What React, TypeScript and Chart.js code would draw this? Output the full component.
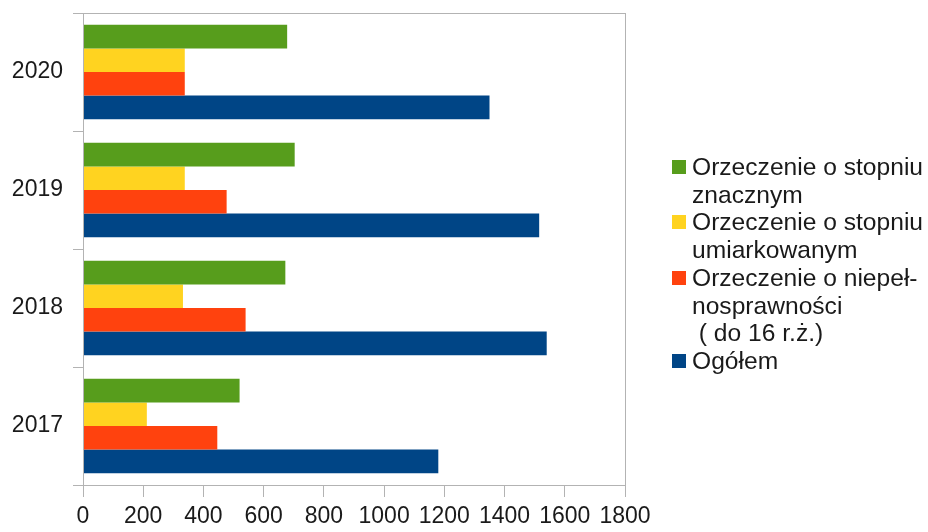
import React, { useEffect, useRef } from "react";
import { Chart, registerables } from "chart.js";

Chart.register(...registerables);

const categories = ["2020", "2019", "2018", "2017"];
const znacznym = [678, 703, 672, 520];
const umiarkowanym = [338, 338, 332, 212];
const do16 = [338, 477, 540, 446];
const ogolem = [1350, 1515, 1540, 1180];
const xTicks = [0, 200, 400, 600, 800, 1000, 1200, 1400, 1600, 1800];

const seriesNames = [
  "Orzeczenie o stopniu znacznym",
  "Orzeczenie o stopniu umiarkowanym",
  "Orzeczenie o niepełnosprawności ( do 16 r.ż.)",
  "Ogółem",
];
const legendLines = [
  ["Orzeczenie o stopniu", "znacznym"],
  ["Orzeczenie o stopniu", "umiarkowanym"],
  ["Orzeczenie o niepeł-", "nosprawności", " ( do 16 r.ż.)"],
  ["Ogółem"],
];
const colors = ["#579D1C", "#FFD320", "#FF420E", "#004586"];

const FONT = "'Liberation Sans', Arial, sans-serif";
const GRID = "#b3b3b3";
const TEXT = "#1a1a1a";

const framePlugin = {
  id: "frame",
  afterDraw(chart: any) {
    const { ctx, chartArea } = chart;
    ctx.save();
    ctx.strokeStyle = GRID;
    ctx.lineWidth = 1;
    ctx.strokeRect(
      Math.round(chartArea.left) + 0.5,
      Math.round(chartArea.top) + 0.5,
      Math.round(chartArea.right - chartArea.left),
      Math.round(chartArea.bottom - chartArea.top)
    );
    ctx.restore();
  },
};

export default function App() {
  const ref = useRef<HTMLCanvasElement>(null);

  useEffect(() => {
    const data = [znacznym, umiarkowanym, do16, ogolem];
    const chart = new Chart(ref.current!, {
      type: "bar",
      data: {
        labels: categories,
        datasets: data.map((d, i) => ({
          label: seriesNames[i],
          data: d,
          backgroundColor: colors[i],
          borderWidth: 0,
          categoryPercentage: 0.8,
          barPercentage: 1.0,
        })),
      },
      options: {
        indexAxis: "y",
        animation: false,
        responsive: false,
        maintainAspectRatio: false,
        layout: { padding: { left: 0, top: 13, right: 303, bottom: 0 } },
        plugins: {
          legend: { display: false },
          tooltip: { enabled: false },
        },
        scales: {
          x: {
            min: 0,
            max: 1800,
            afterBuildTicks: (scale: any) => {
              scale.ticks = xTicks.map((v) => ({ value: v }));
            },
            afterFit: (scale: any) => {
              scale.height = 47;
              scale.paddingLeft = 0;
              scale.paddingRight = 0;
              scale.paddingTop = 0;
              scale.paddingBottom = 0;
            },
            grid: {
              display: true,
              drawOnChartArea: false,
              drawTicks: true,
              tickLength: 12,
              color: GRID,
            },
            border: { display: true, color: GRID },
            ticks: {
              color: TEXT,
              font: { family: FONT, size: 23 },
              padding: 6,
              maxRotation: 0,
              autoSkip: false,
              callback: (v: any) => String(v),
            },
          },
          y: {
            afterFit: (scale: any) => {
              scale.width = 83;
              scale.paddingLeft = 0;
              scale.paddingRight = 0;
              scale.paddingTop = 0;
              scale.paddingBottom = 0;
            },
            grid: {
              display: true,
              offset: true,
              drawOnChartArea: false,
              drawTicks: true,
              tickLength: 10,
              color: GRID,
            },
            border: { display: true, color: GRID },
            ticks: {
              color: TEXT,
              font: { family: FONT, size: 23 },
              padding: 10,
            },
          },
        },
      },
      plugins: [framePlugin],
    });
    return () => chart.destroy();
  }, []);

  return (
    <div
      style={{
        position: "fixed",
        left: 0,
        top: 0,
        width: 928,
        height: 532,
        background: "#fff",
      }}
    >
      <canvas ref={ref} width={928} height={532} style={{ display: "block" }} />
      <div
        style={{
          position: "absolute",
          left: 672,
          top: 153,
          fontFamily: FONT,
          fontSize: 24.6,
          lineHeight: "27.7px",
          color: TEXT,
        }}
      >
        {legendLines.map((lines, i) => (
          <div key={i} style={{ position: "relative", paddingLeft: 20 }}>
            <span
              style={{
                position: "absolute",
                left: 0,
                top: 7,
                width: 14,
                height: 14,
                background: colors[i],
              }}
            />
            {lines.map((l, j) => (
              <div key={j} style={{ whiteSpace: "pre" }}>
                {l}
              </div>
            ))}
          </div>
        ))}
      </div>
    </div>
  );
}
